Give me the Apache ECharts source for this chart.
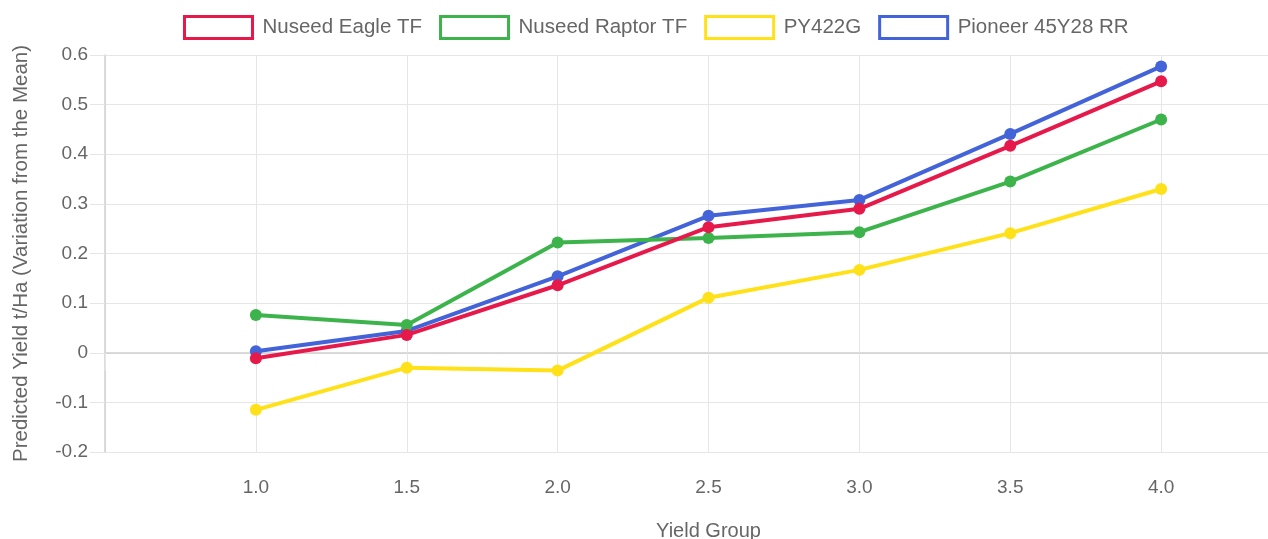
<!DOCTYPE html>
<html>
<head>
<meta charset="utf-8">
<script src="https://cdn.jsdelivr.net/npm/echarts@6/dist/echarts.min.js"></script>
<style>
html,body{margin:0;padding:0;background:#fff;}
#chart{width:1268px;height:539px;}
</style>
</head>
<body>
<div id="chart"></div>
<script>
var yieldGroups = [1.0, 1.5, 2.0, 2.5, 3.0, 3.5, 4.0];
var xTickLabels = ['1.0', '1.5', '2.0', '2.5', '3.0', '3.5', '4.0'];
var seriesNames = ['Nuseed Eagle TF', 'Nuseed Raptor TF', 'PY422G', 'Pioneer 45Y28 RR'];
var seriesColors = ['#e6194B', '#3cb44b', '#ffe119', '#4363d8'];
var eagle   = [-0.011, 0.036, 0.136, 0.253, 0.290, 0.417, 0.547];
var raptor  = [0.076, 0.056, 0.222, 0.231, 0.243, 0.345, 0.470];
var py422g  = [-0.115, -0.030, -0.036, 0.111, 0.167, 0.241, 0.330];
var pioneer = [0.003, 0.044, 0.154, 0.276, 0.308, 0.441, 0.577];
var seriesValues = [eagle, raptor, py422g, pioneer];

var font = 'Liberation Sans, Arial, sans-serif';
var chart = echarts.init(document.getElementById('chart'));

var series = seriesNames.map(function (name, i) {
  return {
    name: name,
    type: 'line',
    z: 10 - i,
    data: yieldGroups.map(function (x, j) { return [x, seriesValues[i][j]]; }),
    symbol: 'circle',
    symbolSize: 12,
    showSymbol: true,
    lineStyle: { width: 4, color: seriesColors[i] },
    itemStyle: { color: seriesColors[i] },
    emphasis: { disabled: true },
    animation: false
  };
});

chart.setOption({
  animation: false,
  backgroundColor: '#fff',
  legend: {
    top: 15,
    left: 183,
    padding: 0,
    itemWidth: 68,
    itemHeight: 22,
    itemGap: 17,
    textStyle: { fontFamily: font, fontSize: 20.5, color: '#666', padding: [0, 0, 0, 5] },
    data: seriesNames.map(function (n, i) {
      return { name: n, icon: 'rect', itemStyle: { color: '#fff', borderColor: seriesColors[i], borderWidth: 3 } };
    })
  },
  grid: { left: 105, top: 55, width: 1207, height: 397, containLabel: false, outerBoundsMode: 'none' },
  xAxis: {
    type: 'value',
    min: 0.5,
    max: 4.5,
    interval: 0.5,
    name: 'Yield Group',
    nameLocation: 'middle',
    nameGap: 69,
    nameTextStyle: { fontFamily: font, fontSize: 20, color: '#666' },
    axisLine: { show: true, lineStyle: { color: '#d0d0d0', width: 1.5 } },
    axisTick: { show: true, length: 18, lineStyle: { color: '#e6e6e6' } },
    axisLabel: {
      margin: 26,
      fontFamily: font, fontSize: 19, color: '#666',
      formatter: function (v) {
        var idx = yieldGroups.indexOf(Math.round(v * 10) / 10);
        return idx >= 0 ? xTickLabels[idx] : '';
      }
    },
    splitLine: { show: true, lineStyle: { color: '#e6e6e6' } }
  },
  yAxis: {
    type: 'value',
    min: -0.2,
    max: 0.6,
    interval: 0.1,
    name: 'Predicted Yield t/Ha (Variation from the Mean)',
    nameLocation: 'middle',
    nameGap: 73,
    nameTextStyle: { fontFamily: font, fontSize: 20.5, color: '#666' },
    axisLine: { show: true, lineStyle: { color: '#d0d0d0', width: 1.5 } },
    axisTick: { show: true, length: 15, lineStyle: { color: '#e6e6e6' } },
    axisLabel: {
      margin: 17,
      fontFamily: font, fontSize: 19, color: '#666',
      formatter: function (v) {
        var r = Math.round(v * 10) / 10;
        return r === 0 ? '0' : r.toFixed(1);
      }
    },
    splitLine: { show: true, lineStyle: { color: '#e6e6e6' } }
  },
  series: series
});
</script>
</body>
</html>
